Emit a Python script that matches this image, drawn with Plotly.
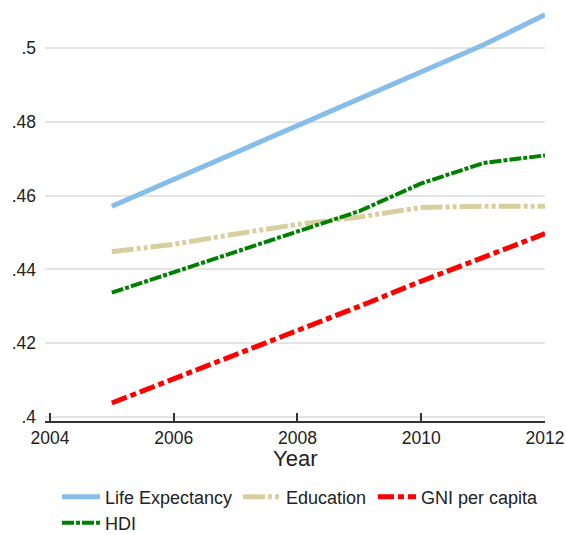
import plotly.graph_objects as go

years = [2005, 2006, 2007, 2008, 2009, 2010, 2011, 2012]
life_expectancy = [0.4571, 0.4644, 0.4717, 0.4790, 0.4863, 0.4936, 0.5008, 0.5090]
education = [0.4448, 0.4468, 0.4496, 0.4522, 0.4542, 0.4568, 0.4571, 0.4571]
gni_per_capita = [0.4038, 0.4103, 0.4168, 0.4234, 0.4300, 0.4368, 0.4432, 0.4497]
hdi = [0.4337, 0.4392, 0.4446, 0.4501, 0.4558, 0.4633, 0.4688, 0.4709]

x_ticks = [2004, 2006, 2008, 2010, 2012]
y_ticks = [0.40, 0.42, 0.44, 0.46, 0.48, 0.50]
y_tick_labels = [".4", ".42", ".44", ".46", ".48", ".5"]

fig = go.Figure()
fig.add_trace(go.Scatter(x=years, y=life_expectancy, mode="lines", name="Life Expectancy",
                         legend="legend",
                         line=dict(color="#86bde9", width=5)))
fig.add_trace(go.Scatter(x=years, y=education, mode="lines", name="Education",
                         legend="legend2",
                         line=dict(color="#d8cf9e", width=5, dash="22px,3px,4px,3px,4px,3px")))
fig.add_trace(go.Scatter(x=years, y=gni_per_capita, mode="lines", name="GNI per capita",
                         legend="legend3",
                         line=dict(color="#ff0000", width=5, dash="16px,4px,6px,4px")))
fig.add_trace(go.Scatter(x=years, y=hdi, mode="lines", name="HDI",
                         legend="legend4",
                         line=dict(color="#008000", width=4, dash="12px,2px,4px,2px")))

legend_font = dict(size=18, color="#222222")
leg_common = dict(orientation="h", xanchor="left", yanchor="middle", itemwidth=38,
                  xref="container", yref="container",
                  font=legend_font, bgcolor="rgba(0,0,0,0)", borderwidth=0)

fig.update_layout(
    width=566, height=535,
    margin=dict(l=45, r=21, t=10, b=114, autoexpand=False),
    paper_bgcolor="white", plot_bgcolor="white",
    font=dict(family="Liberation Sans, Arial, sans-serif", size=17.5, color="#222222"),
    showlegend=True,
    legend=dict(x=57 / 566, y=1 - 497 / 535, **leg_common),
    legend2=dict(x=238 / 566, y=1 - 497 / 535, **leg_common),
    legend3=dict(x=373 / 566, y=1 - 497 / 535, **leg_common),
    legend4=dict(x=57 / 566, y=1 - 523 / 535, **leg_common),
    xaxis=dict(range=[2003.92, 2012], tickvals=x_ticks, ticks="inside", ticklen=8,
               tickwidth=1.5, tickcolor="#333333", showline=True, linecolor="#333333",
               linewidth=1.5, showgrid=False, zeroline=False, ticklabelstandoff=0,
               ticklabeloverflow="allow", automargin=False,
               tickfont=dict(size=17.5)),
    yaxis=dict(range=[0.39892, 0.5103], tickvals=y_ticks, ticktext=y_tick_labels,
               showgrid=True, gridcolor="#e4e4e4", gridwidth=1.5, zeroline=False,
               showline=False, ticks="", ticklabelstandoff=8, automargin=False,
               tickfont=dict(size=17.5)),
    annotations=[dict(text="Year", xref="paper", yref="paper", x=0.5, xanchor="center",
                      y=(421 - 458) / 411, yanchor="middle", showarrow=False,
                      font=dict(size=22, color="#222222"))],
)

fig.write_html("out.html", config={"displayModeBar": False},
               post_script="document.body.style.margin='0';")
